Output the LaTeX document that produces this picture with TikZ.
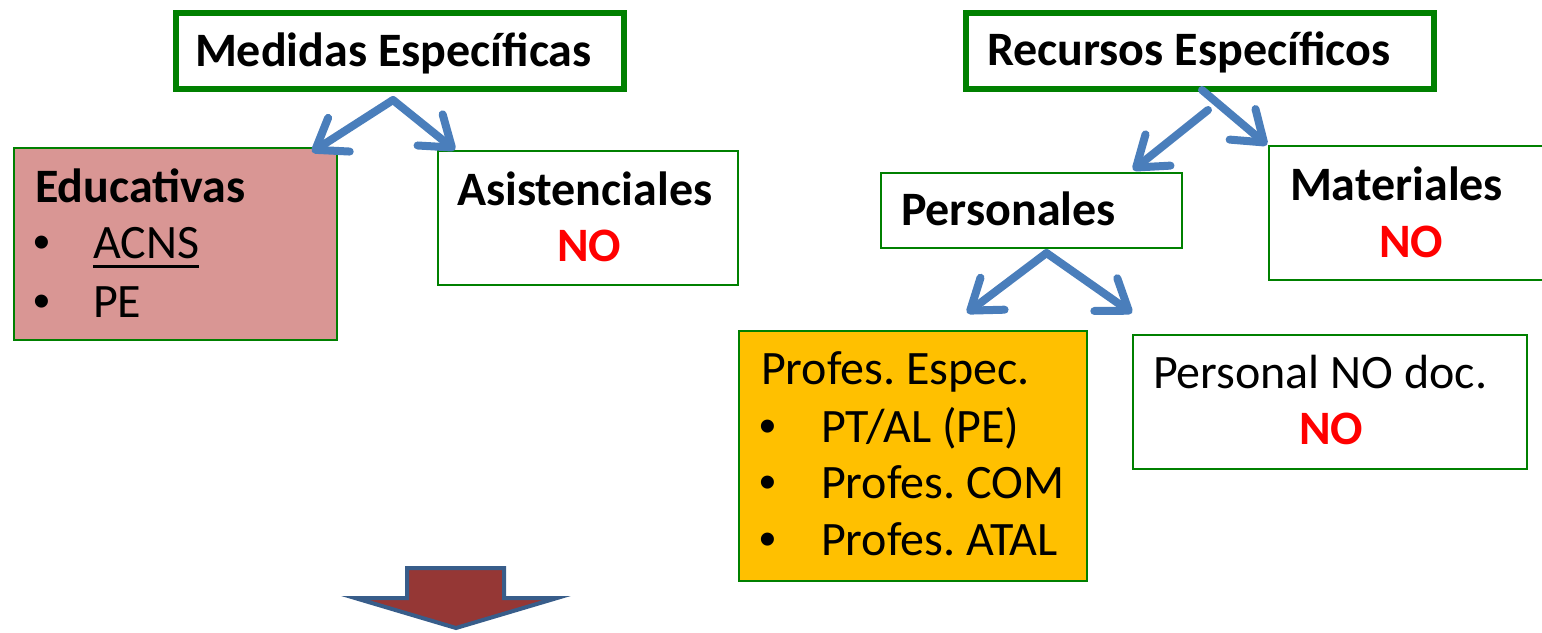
\documentclass[tikz,border=0pt]{standalone}
\usepackage{fontspec}
\setmainfont{Carlito}
\newfontfamily\bulletfont{Liberation Sans}
\usetikzlibrary{arrows.meta,calc}
\frenchspacing
\definecolor{boxgreen}{HTML}{008000}
\definecolor{arrowblue}{HTML}{4A7EBB}
\definecolor{pinkfill}{HTML}{D99694}
\definecolor{orangefill}{HTML}{FFC000}
\definecolor{nored}{HTML}{FF0000}
\definecolor{darkred}{HTML}{953735}
\definecolor{arrowedge}{HTML}{385D8A}
\newcommand\mybx[6]{\node[#6, minimum width={(#4-#2)*0.75pt}, minimum height={(#5-#3)*0.75pt}] (#1) at ({(#2+#4)/2},{(#3+#5)/2}) {};}
\newcommand\myul[1]{\setbox0\hbox{#1}\rlap{\rule[-7.4pt]{\wd0}{2.2pt}}\box0}
\newcommand\mybul{{\bulletfont\textbullet}}
\tikzset{
  boxthick/.style={draw=boxgreen, line width=4.5pt, fill=white, inner sep=0pt, outer sep=0pt, rectangle},
  boxthin/.style={draw=boxgreen, line width=1.5pt, fill=white, inner sep=0pt, outer sep=0pt, rectangle},
  txt/.style={anchor=base west, inner sep=0pt, outer sep=0pt, font=\fontsize{36}{43}\selectfont},
  btxt/.style={txt, font=\fontsize{36}{43}\selectfont\bfseries},
  notxt/.style={btxt, text=nored},
  conn/.style={draw=arrowblue, line width=6pt, line cap=round,
    -{Straight Barb[length=21pt,width=30pt,round]}},
}
\begin{document}
\begin{tikzpicture}[x=0.75pt,y=-0.75pt]
\useasboundingbox (0,0) rectangle (1542,632);
% boxes
\mybx{med}{176}{13}{624}{89}{boxthick}
\mybx{rec}{966}{13}{1434}{89}{boxthick}
\mybx{edu}{14}{148}{337}{340}{boxthin, fill=pinkfill}
\mybx{asi}{438}{151}{738}{285}{boxthin}
\mybx{per}{881}{173}{1182}{248}{boxthin}
\mybx{mat}{1269}{146}{1556}{280}{boxthin}
\mybx{pro}{739}{331}{1087}{581}{boxthin, fill=orangefill}
\mybx{pnd}{1133}{335}{1527}{469}{boxthin}
% texts
\node[btxt] (medt) at (195,66) {Medidas Específicas};
\node[btxt] (rect) at (987,65) {Recursos Específicos};
\node[btxt] (edut) at (35,202) {Educativas};
\node[txt] (edub1) at (33,258) {\mybul};
\node[txt] (edua) at (93,258) {\myul{ACNS}};
\node[txt] (edub2) at (33,317) {\mybul};
\node[txt] (edup) at (93,317) {PE};
\node[btxt] (asit) at (457,205) {Asistenciales};
\node[notxt] (asin) at (557,261) {NO};
\node[btxt] (pert) at (901,225) {Personales};
\node[btxt] (matt) at (1290,200) {Materiales};
\node[notxt] (matn) at (1379,257) {NO};
\node[txt] (prot) at (761,384) {Profes. Espec.};
\node[txt] (prob1) at (759,442) {\mybul};
\node[txt] (pro1) at (821,442) {PT/AL (PE)};
\node[txt] (prob2) at (759,498) {\mybul};
\node[txt] (pro2) at (821,498) {Profes. COM};
\node[txt] (prob3) at (759,555) {\mybul};
\node[txt] (pro3) at (821,555) {Profes. ATAL};
\node[txt] (pndt) at (1153,388) {Personal NO doc.};
\node[notxt] (pndn) at (1299,444) {NO};
% connectors
\coordinate (medsplit) at ($(med.south)+(-7,11)$);
\coordinate (recsplitl) at ($(rec.south)+(8,21)$);
\coordinate (recsplitr) at ($(rec.south)+(2,1)$);
\coordinate (persplit) at ($(per.south)+(15,5)$);
\draw[conn] (medsplit) -- ($(edu.north east)+(-25,4)$);
\draw[conn] (medsplit) -- ($(asi.north west)+(17,-1)$);
\draw[conn] (recsplitl) -- ($(per.north east)+(-49,-3)$);
\draw[conn] (recsplitr) -- ($(mat.north west)+(-2,-1)$);
\draw[conn] (persplit) -- ($(pro.north west)+(228,-18)$);
\draw[conn] (persplit) -- ($(pnd.north west)+(-1,-22)$);
% down block arrow
\draw[line width=3pt, draw=arrowedge, fill=darkred, line join=miter]
  (407,568) -- (504,568) -- (504,598) -- (557,598) -- (456,628) -- (355,598) -- (407,598) -- cycle;
\end{tikzpicture}
\end{document}
